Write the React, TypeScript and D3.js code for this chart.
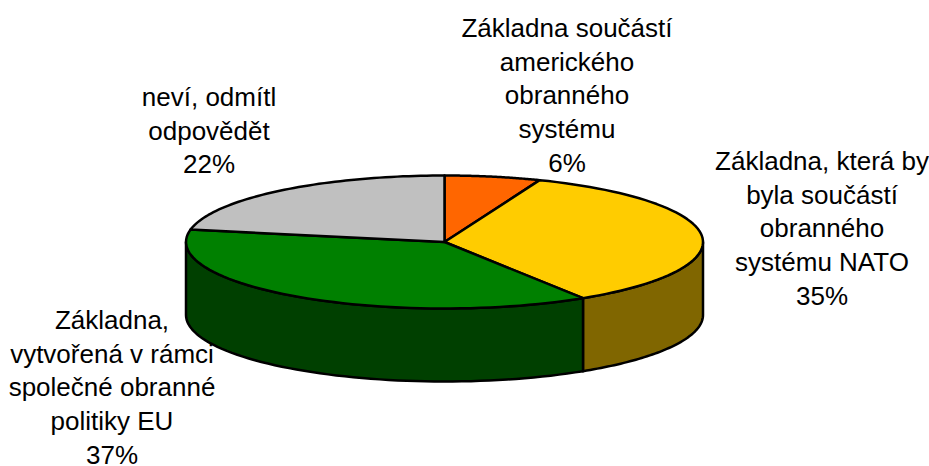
import React from "react";
import * as d3 from "d3";

const width = 929;
const height = 466;

const names = ["orange", "yellow", "green", "gray"];
const values = [6, 35, 37, 22];
const colors = ["#FF6600", "#FFCC00", "#008000", "#C0C0C0"];
const sideColors = ["#803300", "#806600", "#004000", "#606060"];
const labels = [
  ["Základna součástí", "amerického", "obranného", "systému", "6%"],
  ["Základna, která by", "byla součástí", "obranného", "systému NATO", "35%"],
  ["Základna,", "vytvořená v rámci", "společné obranné", "politiky EU", "37%"],
  ["neví, odmítl", "odpovědět", "22%"],
];
const labelPos = [
  [567, 37],
  [822, 170],
  [112, 329],
  [209, 106],
];

const cx = 444.5;
const cy = 242;
const rx = 258.5;
const ry = 66.5;
const depth = 73;
const lineStep = 33.7;

const px = (a: number) => cx + rx * Math.sin(a);
const py = (a: number) => cy - ry * Math.cos(a);

export default function App() {
  const slices = d3.pie<number>().sort(null)(values);
  const line = d3.line();

  const arcPoints = (a0: number, a1: number, dy = 0) =>
    d3.range(0, 61).map((i) => {
      const a = a0 + ((a1 - a0) * i) / 60;
      return [px(a), py(a) + dy] as [number, number];
    });

  const topPath = (a0: number, a1: number) =>
    line([[cx, cy], ...arcPoints(a0, a1)]) + "Z";

  // only the front half of the rim (90deg..270deg) shows a wall
  const sidePath = (a0: number, a1: number) => {
    const s = Math.max(a0, Math.PI / 2);
    const e = Math.min(a1, (Math.PI * 3) / 2);
    if (s >= e) return null;
    return line([...arcPoints(s, e), ...arcPoints(e, s, depth)]) + "Z";
  };

  return (
    <svg
      width={width}
      height={height}
      style={{ position: "absolute", left: 0, top: 0, background: "#fff" }}
    >
      <g stroke="#000" strokeWidth={2.5} strokeLinejoin="round">
        {slices.map((d, i) => {
          const p = sidePath(d.startAngle, d.endAngle);
          return p ? <path key={names[i]} d={p} fill={sideColors[i]} /> : null;
        })}
        {slices.map((d, i) => (
          <path key={names[i]} d={topPath(d.startAngle, d.endAngle)} fill={colors[i]} />
        ))}
      </g>
      <g fontFamily="'Liberation Sans', Arial, sans-serif" fontSize={26} fill="#000" textAnchor="middle">
        {labels.map((lines, i) => (
          <text key={names[i]}>
            {lines.map((t, j) => (
              <tspan key={j} x={labelPos[i][0]} y={labelPos[i][1] + j * lineStep}>
                {t}
              </tspan>
            ))}
          </text>
        ))}
      </g>
    </svg>
  );
}
